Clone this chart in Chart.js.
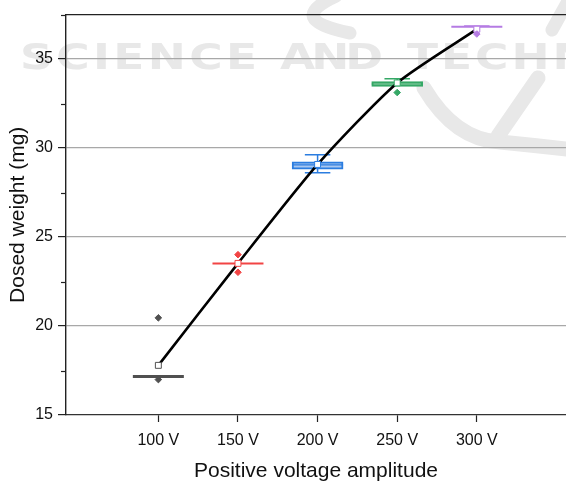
<!DOCTYPE html>
<html>
<head>
<meta charset="utf-8">
<script src="https://cdn.jsdelivr.net/npm/chart.js@4/dist/chart.umd.min.js"></script>
<style>
  html, body { margin: 0; padding: 0; background: #ffffff; }
  #wrap { width: 566px; height: 484px; position: relative; }
</style>
</head>
<body>
<div id="wrap"><canvas id="c" width="566" height="484"></canvas></div>
<script>
// ---- data ----
const categories = ['100 V', '150 V', '200 V', '250 V', '300 V'];
const voltages = [100, 150, 200, 250, 300];
const q1 = [17.17, 23.51, 28.82, 33.46, 36.82];
const median = [17.17, 23.51, 29.05, 33.60, 36.82];
const q3 = [17.17, 23.51, 29.22, 33.74, 36.82];
const whiskerLow = [17.17, 23.51, 28.61, 33.46, 36.82];
const whiskerHigh = [17.17, 23.51, 29.63, 33.89, 36.86];
const means = [17.79, 23.52, 29.08, 33.66, 36.68];
const outliers = [[20.46, 16.99], [24.01, 23.02], [], [33.12], [36.41]];
const yTickValues = [15, 17.5, 20, 22.5, 25, 27.5, 30, 32.5, 35, 37.5];

// ---- styles ----
const strokeColors = ['#505050', '#f24444', '#2b7de0', '#35a866', '#b57be3'];
const fillColors = ['#505050', '#f24444', '#a8c7f0', '#9cd5b0', '#b57be3'];
const FONT = 'Liberation Sans, Arial, sans-serif';

const watermark = {
  id: 'watermark',
  beforeDraw(chart) {
    const ctx = chart.ctx;
    ctx.save();
    ctx.fillStyle = '#e8e8e8';
    ctx.strokeStyle = '#e8e8e8';
    ctx.font = 'bold 35px "DejaVu Sans"';
    ctx.textBaseline = 'alphabetic';
    const sx = 1.3;
    const drawWord = (word, x0, x1) => {
      const widths = [...word].map(ch => ctx.measureText(ch).width * sx);
      const total = widths.reduce((a, b) => a + b, 0);
      const sp = x1 ? (x1 - x0 - total) / (word.length - 1) : 3;
      let x = x0;
      [...word].forEach((ch, i) => {
        ctx.save();
        ctx.translate(x, 69);
        ctx.scale(sx, 1);
        ctx.fillText(ch, 0, 0);
        ctx.restore();
        x += widths[i] + sp;
      });
    };
    drawWord('SCIENCE', 20, 257);
    drawWord('AND', 280, 383);
    drawWord('TECHNOLOGY', 407, null);
    ctx.lineCap = 'round';
    ctx.lineWidth = 13;
    ctx.beginPath();
    ctx.moveTo(336, -4);
    ctx.quadraticCurveTo(284, 20, 350, 33);
    ctx.stroke();
    ctx.beginPath();
    ctx.moveTo(572, -6);
    ctx.lineTo(552, 30);
    ctx.stroke();
    ctx.lineWidth = 15;
    ctx.beginPath();
    ctx.moveTo(424, 88);
    ctx.quadraticCurveTo(455, 140, 500, 142);
    ctx.quadraticCurveTo(540, 146, 575, 150);
    ctx.stroke();
    ctx.beginPath();
    ctx.moveTo(538, 78);
    ctx.lineTo(498, 136);
    ctx.stroke();
    ctx.restore();
  }
};

const boxParts = {
  id: 'boxParts',
  afterDatasetDraw(chart, args) {
    if (args.index !== 0) return;
    const ctx = chart.ctx;
    const xs = chart.scales.x, ys = chart.scales.y;
    const meta = chart.getDatasetMeta(0);
    ctx.save();
    voltages.forEach((v, i) => {
      const cx = xs.getPixelForValue(v);
      const half = (meta.data[i] ? meta.data[i].width : 51) / 2;
      const capHalf = half / 2;
      ctx.strokeStyle = strokeColors[i];
      ctx.lineWidth = 1.5;
      const yHi = ys.getPixelForValue(whiskerHigh[i]);
      const yQ3 = ys.getPixelForValue(q3[i]);
      const yLo = ys.getPixelForValue(whiskerLow[i]);
      const yQ1 = ys.getPixelForValue(q1[i]);
      if (whiskerHigh[i] > q3[i]) {
        ctx.beginPath();
        ctx.moveTo(cx, yQ3); ctx.lineTo(cx, yHi);
        ctx.moveTo(cx - capHalf, yHi); ctx.lineTo(cx + capHalf, yHi);
        ctx.stroke();
      }
      if (whiskerLow[i] < q1[i]) {
        ctx.beginPath();
        ctx.moveTo(cx, yQ1); ctx.lineTo(cx, yLo);
        ctx.moveTo(cx - capHalf, yLo); ctx.lineTo(cx + capHalf, yLo);
        ctx.stroke();
      }
      const collapsed = q3[i] === q1[i];
      ctx.lineWidth = collapsed ? (i === 0 ? 3 : 2) : 1.2;
      const ym = ys.getPixelForValue(median[i]);
      ctx.beginPath();
      ctx.moveTo(cx - half, ym); ctx.lineTo(cx + half, ym);
      ctx.stroke();
    });
    ctx.restore();
  },
  afterDraw(chart) {
    const ctx = chart.ctx;
    const ys = chart.scales.y;
    const area = chart.chartArea;
    ctx.save();
    ctx.strokeStyle = '#222';
    ctx.lineWidth = 1.2;
    yTickValues.forEach(v => {
      if (v % 5 !== 0) {
        const y = Math.round(ys.getPixelForValue(v)) + 0.5;
        ctx.beginPath();
        ctx.moveTo(area.left - 5, y); ctx.lineTo(area.left, y);
        ctx.stroke();
      }
    });
    ctx.lineWidth = 1.3;
    ctx.beginPath();
    ctx.moveTo(area.left, area.top); ctx.lineTo(chart.width, area.top);
    ctx.stroke();
    ctx.restore();
  }
};

new Chart(document.getElementById('c'), {
  type: 'scatter',
  data: {
    datasets: [
      {
        type: 'bar',
        data: voltages.map((v, i) => ({ x: v, y: [q1[i], q3[i]] })),
        backgroundColor: fillColors,
        borderColor: strokeColors,
        borderWidth: 2,
        borderSkipped: false,
        barThickness: 51,
        order: 4
      },
      {
        type: 'line',
        data: voltages.map((v, i) => ({ x: v, y: means[i] })),
        borderColor: '#000',
        borderWidth: 2.6,
        pointRadius: 0,
        tension: 0.22,
        fill: false,
        order: 3
      },
      {
        type: 'scatter',
        data: voltages.map((v, i) => ({ x: v, y: means[i] })),
        pointStyle: 'rect',
        pointRadius: 4.2,
        pointBackgroundColor: '#ffffff',
        pointBorderColor: strokeColors,
        pointBorderWidth: 1,
        order: 2
      },
      {
        type: 'scatter',
        data: outliers.flatMap((arr, i) => arr.map(y => ({ x: voltages[i], y }))),
        pointStyle: 'rectRot',
        pointRadius: 3.3,
        pointBackgroundColor: outliers.flatMap((arr, i) => arr.map(() => strokeColors[i])),
        pointBorderColor: outliers.flatMap((arr, i) => arr.map(() => strokeColors[i])),
        pointBorderWidth: 1,
        order: 1
      }
    ]
  },
  options: {
    responsive: false,
    animation: false,
    devicePixelRatio: 1,
    layout: { autoPadding: false, padding: { top: 12, right: 0, left: 0, bottom: 0 } },
    plugins: { legend: { display: false }, tooltip: { enabled: false } },
    scales: {
      x: {
        type: 'linear',
        min: 42,
        max: 356,
        offset: false,
        afterBuildTicks: s => { s.ticks = voltages.map(v => ({ value: v })); },
        afterFit: s => { s.height = 69; },
        ticks: {
          callback: v => { const k = voltages.indexOf(v); return k >= 0 ? categories[k] : ''; },
          font: { size: 16, family: FONT },
          color: '#111',
          padding: 9,
          maxRotation: 0,
          autoSkip: false
        },
        grid: { offset: false, drawOnChartArea: false, drawTicks: true, tickLength: 7, tickColor: '#222', tickWidth: 1.2 },
        border: { color: '#333', width: 1.3 },
        title: {
          display: true,
          text: 'Positive voltage amplitude',
          font: { size: 21, family: FONT },
          color: '#111',
          padding: { top: 0, bottom: 0 }
        }
      },
      y: {
        type: 'linear',
        min: 15,
        max: 37.5,
        afterBuildTicks: s => { s.ticks = yTickValues.map(v => ({ value: v })); },
        afterFit: s => { s.width = 66; },
        ticks: {
          callback: v => (v % 5 === 0 && v <= 35) ? String(v) : '',
          font: { size: 16, family: FONT },
          color: '#111',
          padding: 5,
          autoSkip: false
        },
        grid: {
          color: c => (c.tick && c.tick.value % 5 === 0 && c.tick.value > 15 && c.tick.value < 37.5) ? '#a8a8a8' : 'rgba(0,0,0,0)',
          lineWidth: 1.2,
          drawTicks: true,
          tickLength: 8,
          tickColor: c => (c.tick && c.tick.value % 5 === 0) ? '#222' : 'rgba(0,0,0,0)',
          tickWidth: 1.2
        },
        border: { color: '#222', width: 1.4 },
        title: {
          display: true,
          text: 'Dosed weight (mg)',
          font: { size: 21, family: FONT },
          color: '#111',
          padding: { top: 6, bottom: 0 }
        }
      }
    }
  },
  plugins: [watermark, boxParts]
});
</script>
</body>
</html>
